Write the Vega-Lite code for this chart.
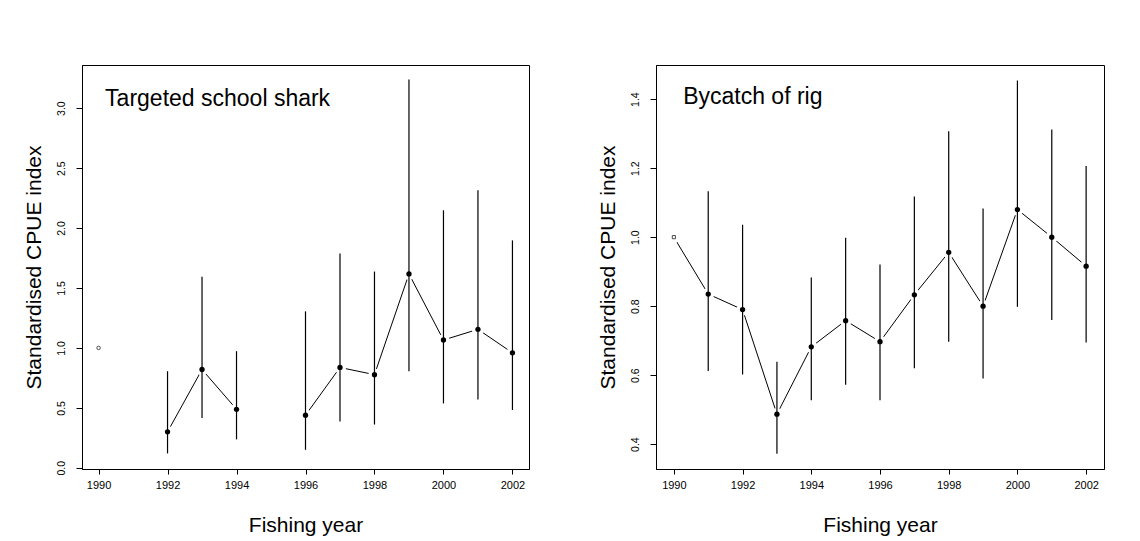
{
  "$schema": "https://vega.github.io/schema/vega-lite/v6.json",
  "background": "white",
  "padding": {"left": 22, "top": 64, "right": 0, "bottom": 0},
  "spacing": 66,
  "config": {
    "font": "Liberation Sans",
    "view": {"stroke": "black", "strokeWidth": 1},
    "axis": {
      "grid": false,
      "domainColor": "black",
      "tickColor": "black",
      "labelColor": "black",
      "titleColor": "black",
      "labelFont": "Liberation Sans",
      "titleFont": "Liberation Sans",
      "titleFontWeight": "normal",
      "titleFontSize": 21
    }
  },
  "datasets": {
    "shark": [
      {"year": 1990, "cpue": 1.0, "lo": null, "hi": null, "seg": "a"},
      {"year": 1992, "cpue": 0.30, "lo": 0.12, "hi": 0.806, "seg": "b"},
      {"year": 1993, "cpue": 0.82, "lo": 0.416, "hi": 1.594, "seg": "b"},
      {"year": 1994, "cpue": 0.488, "lo": 0.237, "hi": 0.973, "seg": "b"},
      {"year": 1996, "cpue": 0.439, "lo": 0.15, "hi": 1.305, "seg": "c"},
      {"year": 1997, "cpue": 0.837, "lo": 0.387, "hi": 1.787, "seg": "c"},
      {"year": 1998, "cpue": 0.777, "lo": 0.361, "hi": 1.637, "seg": "c"},
      {"year": 1999, "cpue": 1.617, "lo": 0.806, "hi": 3.24, "seg": "c"},
      {"year": 2000, "cpue": 1.066, "lo": 0.537, "hi": 2.148, "seg": "c"},
      {"year": 2001, "cpue": 1.155, "lo": 0.569, "hi": 2.316, "seg": "c"},
      {"year": 2002, "cpue": 0.959, "lo": 0.482, "hi": 1.897, "seg": "c"}
    ],
    "rig": [
      {"year": 1990, "cpue": 1.0, "lo": null, "hi": null, "seg": "a"},
      {"year": 1991, "cpue": 0.835, "lo": 0.612, "hi": 1.133, "seg": "a"},
      {"year": 1992, "cpue": 0.79, "lo": 0.602, "hi": 1.036, "seg": "a"},
      {"year": 1993, "cpue": 0.487, "lo": 0.372, "hi": 0.639, "seg": "a"},
      {"year": 1994, "cpue": 0.682, "lo": 0.527, "hi": 0.883, "seg": "a"},
      {"year": 1995, "cpue": 0.758, "lo": 0.572, "hi": 0.998, "seg": "a"},
      {"year": 1996, "cpue": 0.697, "lo": 0.527, "hi": 0.921, "seg": "a"},
      {"year": 1997, "cpue": 0.833, "lo": 0.62, "hi": 1.118, "seg": "a"},
      {"year": 1998, "cpue": 0.956, "lo": 0.697, "hi": 1.307, "seg": "a"},
      {"year": 1999, "cpue": 0.80, "lo": 0.59, "hi": 1.083, "seg": "a"},
      {"year": 2000, "cpue": 1.08, "lo": 0.798, "hi": 1.454, "seg": "a"},
      {"year": 2001, "cpue": 1.00, "lo": 0.76, "hi": 1.312, "seg": "a"},
      {"year": 2002, "cpue": 0.916, "lo": 0.695, "hi": 1.206, "seg": "a"}
    ]
  },
  "hconcat": [
    {
      "width": 447,
      "height": 404,
      "data": {"name": "shark"},
      "encoding": {
        "x": {
          "field": "year", "type": "quantitative",
          "scale": {"domain": [1989.52, 2002.48], "nice": false, "zero": false},
          "axis": {"title": "Fishing year", "values": [1990, 1992, 1994, 1996, 1998, 2000, 2002], "format": "d", "labelFontSize": 11, "tickSize": 5, "labelPadding": 5, "titlePadding": 24}
        },
        "y": {
          "field": "cpue", "type": "quantitative",
          "scale": {"domain": [-0.01, 3.36], "nice": false, "zero": false},
          "axis": {"title": "Standardised CPUE index", "values": [0, 0.5, 1, 1.5, 2, 2.5, 3], "format": ".1f", "labelAngle": -90, "labelFontSize": 10.5, "tickSize": 6, "labelPadding": 10, "titlePadding": 12}
        }
      },
      "layer": [
        {"mark": {"type": "line", "color": "black", "strokeWidth": 1}, "encoding": {"detail": {"field": "seg"}}},
        {"mark": {"type": "circle", "color": "white", "opacity": 1, "size": 150}},
        {"mark": {"type": "rule", "color": "black", "strokeWidth": 1.2}, "encoding": {"y": {"field": "lo", "type": "quantitative"}, "y2": {"field": "hi"}}},
        {"transform": [{"filter": "datum.year > 1990"}], "mark": {"type": "circle", "color": "black", "opacity": 1, "size": 28}},
        {"transform": [{"filter": "datum.year == 1990"}], "mark": {"type": "point", "shape": "circle", "color": "black", "filled": false, "strokeWidth": 1, "size": 12}},
        {"transform": [{"filter": "datum.year == 1990"}],
         "mark": {"type": "text", "align": "left", "baseline": "alphabetic", "fontSize": 23, "font": "Liberation Sans", "color": "black", "text": "Targeted school shark"},
         "encoding": {"x": {"datum": 1990.19}, "y": {"datum": 3.017}}}
      ]
    },
    {
      "width": 448,
      "height": 404,
      "data": {"name": "rig"},
      "encoding": {
        "x": {
          "field": "year", "type": "quantitative",
          "scale": {"domain": [1989.48, 2002.52], "nice": false, "zero": false},
          "axis": {"title": "Fishing year", "values": [1990, 1992, 1994, 1996, 1998, 2000, 2002], "format": "d", "labelFontSize": 11, "tickSize": 5, "labelPadding": 5, "titlePadding": 24}
        },
        "y": {
          "field": "cpue", "type": "quantitative",
          "scale": {"domain": [0.328, 1.499], "nice": false, "zero": false},
          "axis": {"title": "Standardised CPUE index", "values": [0.4, 0.6, 0.8, 1.0, 1.2, 1.4], "format": ".1f", "labelAngle": -90, "labelFontSize": 10.5, "tickSize": 6, "labelPadding": 10, "titlePadding": 12}
        }
      },
      "layer": [
        {"mark": {"type": "line", "color": "black", "strokeWidth": 1}, "encoding": {"detail": {"field": "seg"}}},
        {"mark": {"type": "circle", "color": "white", "opacity": 1, "size": 150}},
        {"mark": {"type": "rule", "color": "black", "strokeWidth": 1.2}, "encoding": {"y": {"field": "lo", "type": "quantitative"}, "y2": {"field": "hi"}}},
        {"transform": [{"filter": "datum.year > 1990"}], "mark": {"type": "circle", "color": "black", "opacity": 1, "size": 28}},
        {"transform": [{"filter": "datum.year == 1990"}], "mark": {"type": "point", "shape": "square", "color": "black", "filled": false, "strokeWidth": 1, "size": 10}},
        {"transform": [{"filter": "datum.year == 1990"}],
         "mark": {"type": "text", "align": "left", "baseline": "alphabetic", "fontSize": 23, "font": "Liberation Sans", "color": "black", "text": "Bycatch of rig"},
         "encoding": {"x": {"datum": 1990.27}, "y": {"datum": 1.387}}}
      ]
    }
  ]
}
